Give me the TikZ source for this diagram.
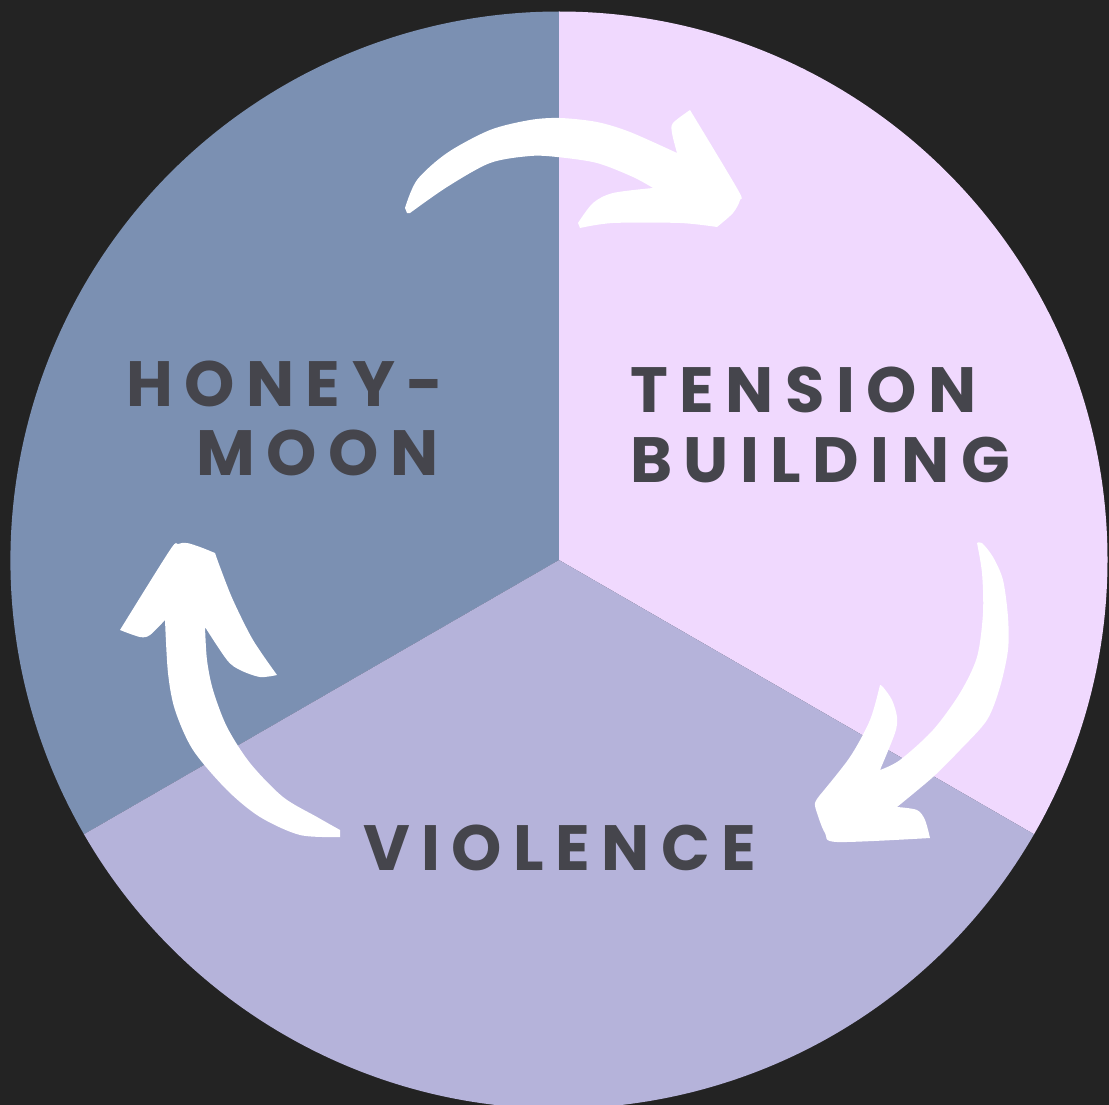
\documentclass[tikz,border=0pt]{standalone}
\usepackage{fontspec}
\newfontfamily\lab[LetterSpace=18]{Poppins}
\definecolor{bg}{HTML}{232323}
\definecolor{hm}{HTML}{7B90B2}
\definecolor{tb}{HTML}{F0D9FE}
\definecolor{vi}{HTML}{B5B3DA}
\definecolor{tx}{HTML}{45454C}
\tikzset{
  label text/.style={inner sep=0pt, text=tx, font=\lab\bfseries\fontsize{64}{64}\selectfont},
  brush/.style={fill=white, draw=none}
}
\begin{document}
\begin{tikzpicture}[x=1pt,y=-1pt]
\fill[bg] (0,0) rectangle (1109,1105);
\useasboundingbox (0,0) rectangle (1109,1105);
\coordinate (c) at (559,560);
% sectors
\fill[hm] (c) -- ++(150:548.5) arc[start angle=150, end angle=270, radius=548.5] -- cycle;
\fill[tb] (c) -- ++(270:548.5) arc[start angle=270, end angle=390, radius=548.5] -- cycle;
\fill[vi] (c) -- ++(30:548.5) arc[start angle=30, end angle=150, radius=548.5] -- cycle;
% labels
\node[label text, anchor=base west] (honey) at (126,406) {HONEY-};
\node[label text, anchor=base west] (moon) at (196,475) {MOON};
\node[label text, anchor=base west] (tension) at (630,412) {TENSION};
\node[label text, anchor=base west] (building) at (630,482) {BUILDING};
\node[label text, anchor=base west] (violence) at (363,870) {VIOLENCE};
% top arrow
\fill[brush] (407,213) -- plot[smooth] coordinates {(405,208) (417,180) (447,153) (490,130) (530,120) (560,118) (597,122) (630,132) (677,153)}
 -- plot[smooth] coordinates {(677,153) (672,133) (673,123) (690,110)}
 -- plot[smooth] coordinates {(690,110) (738,190) (740,200) (733,213) (717,227)}
 -- plot[smooth] coordinates {(717,227) (680,223) (613,223) (580,228)}
 -- plot[smooth] coordinates {(578,223) (593,203) (613,193) (653,188)}
 -- plot[smooth] coordinates {(653,188) (633,177) (597,163) (557,157) (530,156) (490,163) (447,187) (410,213)} -- cycle;
% left arrow
\fill[brush] (340,837) -- plot[smooth] coordinates {(340,837) (300,835) (260,817) (227,790) (193,750) (175,710) (168,673) (165,620)}
 -- plot[smooth] coordinates {(165,620) (150,635) (140,637) (120,630)}
 -- plot[smooth] coordinates {(120,630) (170,550) (178,544) (187,543) (200,547) (215,553)}
 -- plot[smooth] coordinates {(215,553) (220,567) (233,600) (253,640) (277,675)}
 -- plot[smooth] coordinates {(277,675) (260,677) (240,670) (227,660) (205,627)}
 -- plot[smooth] coordinates {(205,627) (207,660) (213,690) (227,727) (250,763) (283,797) (317,817) (340,830)} -- cycle;
% right arrow
\fill[brush] (977,543) -- plot[smooth] coordinates {(977,543) (982,543) (993,557) (1003,580) (1008,617) (1008,650) (1000,687) (987,720) (960,750) (933,777) (897,807)}
 -- plot[smooth] coordinates {(897,807) (917,810) (925,820) (930,838)}
 -- plot[smooth] coordinates {(930,838) (837,842) (825,833) (817,813) (815,803) (820,795)}
 -- plot[smooth] coordinates {(820,795) (850,757) (870,720) (880,685)}
 -- plot[smooth] coordinates {(880,685) (883,687) (892,700) (897,717) (895,733) (880,770)}
 -- plot[smooth] coordinates {(880,770) (900,760) (933,730) (960,693) (977,657) (983,613) (982,573) (977,543)} -- cycle;
\end{tikzpicture}
\end{document}
